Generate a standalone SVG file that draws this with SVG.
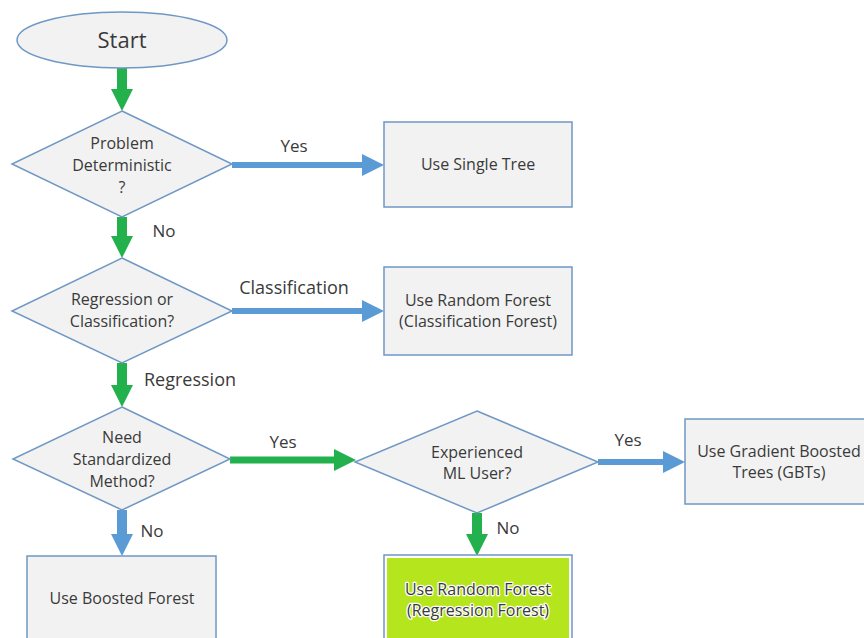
<svg xmlns="http://www.w3.org/2000/svg" width="864" height="638" viewBox="0 0 864 638">
<defs>
<style>
.n{fill:#f2f2f2;stroke:#6f98c4;stroke-width:1.5}
.t{font-family:"Open Sans","Liberation Sans",sans-serif;font-size:16px;fill:#3a3a3a;text-anchor:middle}
.l{font-family:"Open Sans","Liberation Sans",sans-serif;font-size:18px;fill:#3a3a3a;text-anchor:middle}
.s{font-size:17px}
.big{font-size:22px}
.g{stroke:#22b14c;fill:none}
.b{stroke:#5b9bd5;fill:none}
.halo{stroke:#ffffff;stroke-width:2.5;paint-order:stroke;stroke-linejoin:round}
</style>
<marker id="hg" markerUnits="userSpaceOnUse" markerWidth="22" markerHeight="22" refX="0" refY="11" orient="auto"><path d="M0,0 L22,11 L0,22 z" fill="#22b14c"/></marker>
<marker id="hb" markerUnits="userSpaceOnUse" markerWidth="22" markerHeight="22" refX="0" refY="11" orient="auto"><path d="M0,0 L22,11 L0,22 z" fill="#5b9bd5"/></marker>
</defs>
<rect width="864" height="638" fill="#ffffff"/>
<g id="connectors">
<line class="g" x1="122" y1="68" x2="122" y2="89" stroke-width="10" marker-end="url(#hg)"/>
<line class="b" x1="232" y1="165" x2="362" y2="165" stroke-width="6" marker-end="url(#hb)"/>
<line class="g" x1="122" y1="217" x2="122" y2="236" stroke-width="10" marker-end="url(#hg)"/>
<line class="b" x1="232" y1="311" x2="362" y2="311" stroke-width="6" marker-end="url(#hb)"/>
<line class="g" x1="122" y1="363" x2="122" y2="385" stroke-width="10" marker-end="url(#hg)"/>
<line class="g" x1="230" y1="460" x2="334" y2="460" stroke-width="7" marker-end="url(#hg)"/>
<line class="b" x1="598" y1="462" x2="663" y2="462" stroke-width="6" marker-end="url(#hb)"/>
<line class="b" x1="122" y1="510" x2="122" y2="534" stroke-width="10" marker-end="url(#hb)"/>
<line class="g" x1="477" y1="513" x2="477" y2="534" stroke-width="10" marker-end="url(#hg)"/>
<text class="l s" x="294" y="152">Yes</text>
<text class="l s" x="164" y="237">No</text>
<text class="l" x="294" y="294">Classification</text>
<text class="l" x="190" y="386">Regression</text>
<text class="l s" x="283" y="448">Yes</text>
<text class="l s" x="628" y="446">Yes</text>
<text class="l s" x="152" y="537">No</text>
<text class="l s" x="508" y="534">No</text>
</g>
<g id="start">
<ellipse class="n" cx="122" cy="40" rx="105" ry="28"/>
<text class="t big" x="122" y="48">Start</text>
</g>
<g id="d1">
<polygon class="n" points="122,111 232,164 122,217 12,164"/>
<text class="t" x="122" y="149">Problem</text>
<text class="t" x="122" y="171">Deterministic</text>
<text class="t" x="122" y="193">?</text>
</g>
<g id="single">
<rect class="n" x="384" y="122" width="188" height="85"/>
<text class="t" x="478" y="170">Use Single Tree</text>
</g>
<g id="d2">
<polygon class="n" points="122,258 232,311 122,363 12,311"/>
<text class="t" x="122" y="305">Regression or</text>
<text class="t" x="122" y="327">Classification?</text>
</g>
<g id="rfc">
<rect class="n" x="384" y="267" width="188" height="88"/>
<text class="t" x="478" y="306">Use Random Forest</text>
<text class="t" x="478" y="327">(Classification Forest)</text>
</g>
<g id="d3">
<polygon class="n" points="122,407 230,459 122,510 13,459"/>
<text class="t" x="122" y="443">Need</text>
<text class="t" x="122" y="465">Standardized</text>
<text class="t" x="122" y="487">Method?</text>
</g>
<g id="d4">
<polygon class="n" points="477,411 598,462 477,513 355,462"/>
<text class="t" x="477" y="458">Experienced</text>
<text class="t" x="477" y="479">ML User?</text>
</g>
<g id="gbt">
<rect class="n" x="685" y="419" width="190" height="85"/>
<text class="t" x="779" y="457">Use Gradient Boosted</text>
<text class="t" x="779" y="478">Trees (GBTs)</text>
</g>
<g id="boosted">
<rect class="n" x="27" y="556" width="189" height="90"/>
<text class="t" x="122" y="604">Use Boosted Forest</text>
</g>
<g id="rfr">
<rect x="384" y="555" width="188" height="90" fill="#ffffff" stroke="#6f98c4" stroke-width="1.5"/>
<rect x="387" y="558" width="182" height="90" fill="#b5e61d"/>
<text class="t halo" x="478" y="595">Use Random Forest</text>
<text class="t halo" x="478" y="616">(Regression Forest)</text>
</g>
</svg>
